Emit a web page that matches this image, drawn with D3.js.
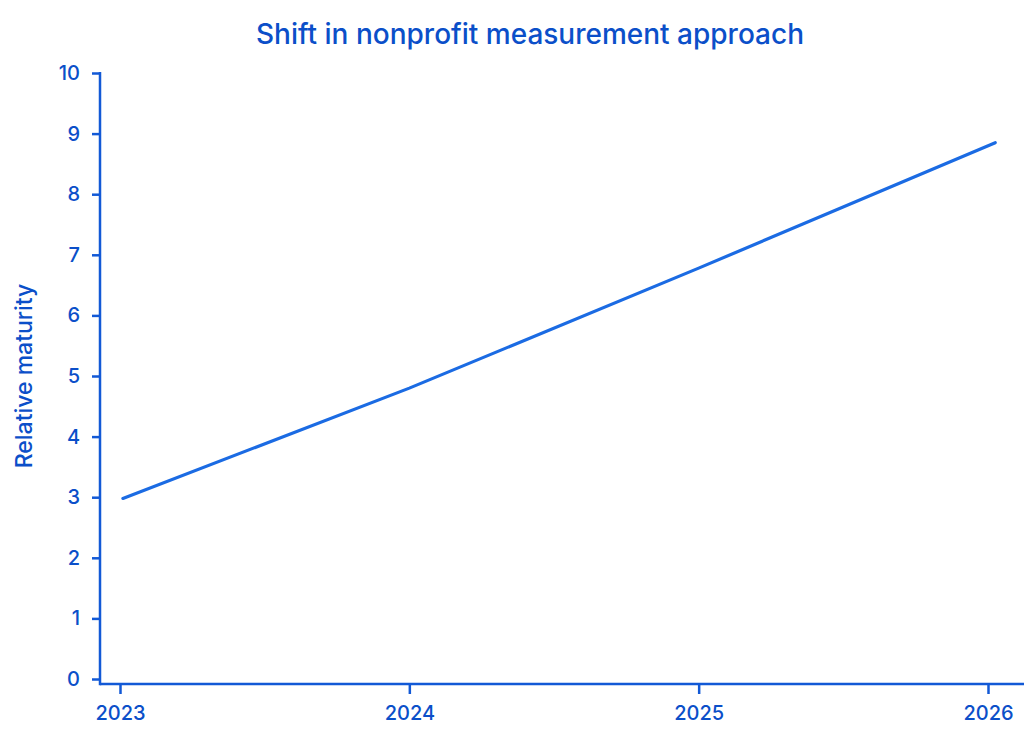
<!DOCTYPE html>
<html>
<head>
<meta charset="utf-8">
<script src="https://cdn.jsdelivr.net/npm/d3@7"></script>
<style>
  body { margin: 0; background: #fff; }
  svg text { font-family: Inter, "Noto Sans", sans-serif; fill: #0b4fc9; }
</style>
</head>
<body>
<svg id="chart" width="1024" height="733"></svg>
<script>
// data
const years = [2023.01, 2024, 2025, 2026.025];
const maturity = [2.98, 4.8, 6.78, 8.85];
const xTicks = [2023, 2024, 2025, 2026];
const yTicks = [0, 1, 2, 3, 4, 5, 6, 7, 8, 9, 10];

const axisColor = "#1259d6";
const lineColor = "#1b6be3";

const svg = d3.select("#chart");

const x = d3.scaleLinear().domain([2023, 2026]).range([120, 988]);
const y = d3.scaleLinear().domain([0, 10]).range([679, 73]);

const axisLeftX = 100, axisBottomY = 684;

// Title
svg.append("text")
    .attr("x", 530)
    .attr("y", 44)
    .attr("text-anchor", "middle")
    .style("font-size", "28px")
    .style("font-weight", 500)
    .text("Shift in nonprofit measurement approach");

// Y axis
const yAxis = svg.append("g")
    .attr("transform", `translate(${axisLeftX},0)`)
    .call(d3.axisLeft(y).tickValues(yTicks).tickSize(8).tickPadding(12).tickSizeOuter(0));
yAxis.select(".domain").remove();
yAxis.append("line")
    .attr("x1", 0).attr("x2", 0)
    .attr("y1", y(10) - 1).attr("y2", axisBottomY + 1.25)
    .attr("stroke", axisColor).attr("stroke-width", 2.5);

// X axis
const xAxis = svg.append("g")
    .attr("transform", `translate(0,${axisBottomY})`)
    .call(d3.axisBottom(x).tickValues(xTicks).tickFormat(d3.format("d")).tickSize(10).tickPadding(12).tickSizeOuter(0));
xAxis.select(".domain").remove();
xAxis.append("line")
    .attr("x1", axisLeftX).attr("x2", 1024)
    .attr("y1", 0).attr("y2", 0)
    .attr("stroke", axisColor).attr("stroke-width", 2.5);

svg.selectAll(".tick line").attr("stroke", axisColor).attr("stroke-width", 2.5);
svg.selectAll(".tick text").style("font-size", "20px").style("font-weight", 500).attr("fill", "#0b4fc9");

// Y label
svg.append("text")
    .attr("transform", "translate(32,376) rotate(-90)")
    .attr("text-anchor", "middle")
    .style("font-size", "23px")
    .style("font-weight", 500)
    .text("Relative maturity");

// Line
const line = d3.line()
    .x((d, i) => x(years[i]))
    .y(d => y(d));

svg.append("path")
    .datum(maturity)
    .attr("fill", "none")
    .attr("stroke", lineColor)
    .attr("stroke-width", 3.2)
    .attr("stroke-linecap", "round")
    .attr("d", line);
</script>
</body>
</html>
